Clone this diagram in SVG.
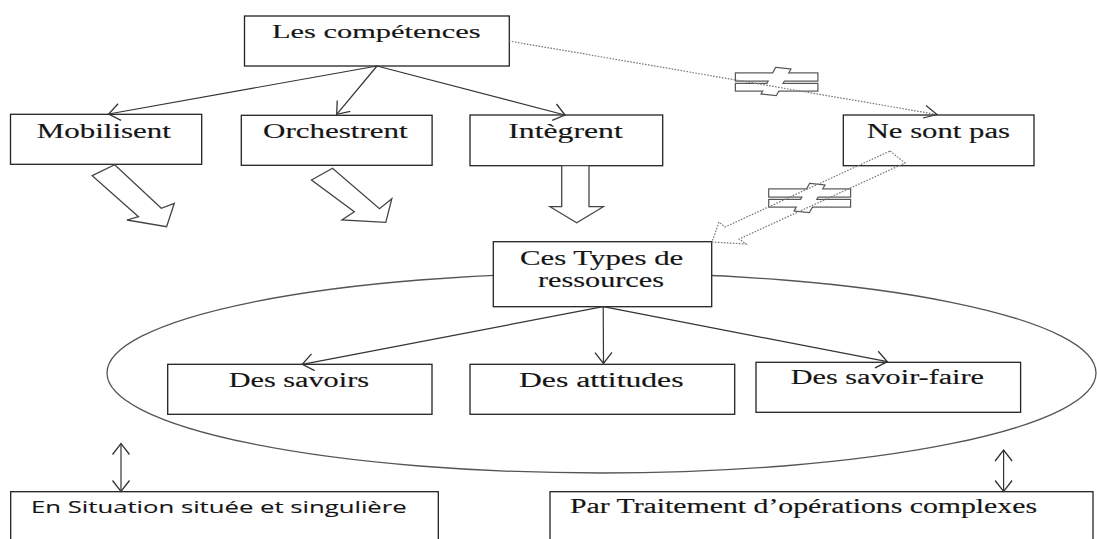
<svg xmlns="http://www.w3.org/2000/svg" width="1097" height="539" viewBox="0 0 1097 539">
<defs>
<style>
.box{fill:#fff;stroke:#222;stroke-width:1.3}
.serif{font-family:"Liberation Serif","Times New Roman",serif;font-size:20px;fill:#151515;stroke:#151515;stroke-width:0.15}
.sans{font-family:"Open Sans","Liberation Sans",sans-serif;font-size:17px;fill:#151515;stroke:#151515;stroke-width:0.1}
.line{stroke:#333;stroke-width:1.2;fill:none}
.dot{stroke:#777;stroke-width:1.2;fill:none;stroke-dasharray:1.6 1.4}
.block{fill:#fff;stroke:#444;stroke-width:1.3;stroke-linejoin:miter}
.neq-o{fill:#fff;stroke:#555;stroke-width:2.4}
.neq-i{fill:#fff;stroke:none}
</style>
<marker id="ah" markerUnits="userSpaceOnUse" markerWidth="14" markerHeight="20" viewBox="0 0 14 20" refX="12.5" refY="10" orient="auto-start-reverse">
<path d="M1.5,1.5 L12.5,10 L1.5,18.5" fill="none" stroke="#333" stroke-width="1.3"/>
</marker>
</defs>
<rect width="1097" height="539" fill="#fff"/>

<g id="group-ellipse">
<ellipse cx="601.5" cy="373" rx="494.5" ry="100" fill="none" stroke="#555" stroke-width="1.3"/>
</g>

<g id="node-competences">
<rect class="box" x="244.5" y="16" width="264.8" height="50"/>
<text class="serif" x="272" y="38.3" style="font-size:19px" textLength="208.5" lengthAdjust="spacingAndGlyphs">Les compétences</text>
</g>
<g id="node-mobilisent">
<rect class="box" x="10.5" y="114.3" width="191.2" height="50"/>
<text class="serif" x="36.8" y="137.7" textLength="134" lengthAdjust="spacingAndGlyphs">Mobilisent</text>
</g>
<g id="node-orchestrent">
<rect class="box" x="241.3" y="115.3" width="190.8" height="50"/>
<text class="serif" x="263" y="138" textLength="144.6" lengthAdjust="spacingAndGlyphs">Orchestrent</text>
</g>
<g id="node-integrent">
<rect class="box" x="470" y="115" width="192.7" height="50.7"/>
<text class="serif" x="508.3" y="137.7" textLength="114.4" lengthAdjust="spacingAndGlyphs">Intègrent</text>
</g>
<g id="node-nesontpas">
<rect class="box" x="843.3" y="115" width="190.7" height="50.7"/>
<text class="serif" x="866.7" y="138.3" textLength="143.3" lengthAdjust="spacingAndGlyphs">Ne sont pas</text>
</g>
<g id="node-types">
<rect class="box" x="493.3" y="241.7" width="218.4" height="65"/>
<text class="serif" x="520" y="265" textLength="163.3" lengthAdjust="spacingAndGlyphs">Ces Types de</text>
<text class="serif" x="538" y="287.3" textLength="126" lengthAdjust="spacingAndGlyphs">ressources</text>
</g>
<g id="node-savoirs">
<rect class="box" x="167.7" y="364.3" width="264.3" height="50"/>
<text class="serif" x="228.7" y="386.7" textLength="140.3" lengthAdjust="spacingAndGlyphs">Des savoirs</text>
</g>
<g id="node-attitudes">
<rect class="box" x="470" y="364.3" width="264.7" height="50"/>
<text class="serif" x="519" y="386.7" textLength="164.5" lengthAdjust="spacingAndGlyphs">Des attitudes</text>
</g>
<g id="node-savoirfaire">
<rect class="box" x="756" y="362.3" width="264.6" height="50"/>
<text class="serif" x="790.8" y="384" textLength="193.2" lengthAdjust="spacingAndGlyphs">Des savoir-faire</text>
</g>
<g id="node-situation">
<rect class="box" x="10.7" y="491.7" width="427.6" height="60"/>
<text class="sans" x="31" y="513.3" textLength="375.7" lengthAdjust="spacingAndGlyphs">En Situation située et singulière</text>
</g>
<g id="node-traitement">
<rect class="box" x="550" y="491.7" width="543" height="60"/>
<text class="serif" x="570" y="513.3" textLength="467" lengthAdjust="spacingAndGlyphs">Par Traitement d’opérations complexes</text>
</g>

<g id="connectors">
<line class="line" x1="377" y1="66" x2="108.7" y2="114" marker-end="url(#ah)"/>
<line class="line" x1="377" y1="66" x2="336.7" y2="114.3" marker-end="url(#ah)"/>
<line class="line" x1="377" y1="66" x2="565" y2="115" marker-end="url(#ah)"/>

<g id="neq-1">
<rect class="neq-o" x="736" y="73.5" width="81.3" height="7"/>
<rect class="neq-o" x="736" y="84" width="81.3" height="6.5"/>
<polygon class="neq-o" points="776,68 790,69.5 776,95 762,93.5"/>
<rect class="neq-i" x="736" y="73.5" width="81.3" height="7"/>
<rect class="neq-i" x="736" y="84" width="81.3" height="6.5"/>
<polygon class="neq-i" points="776,68 790,69.5 776,95 762,93.5"/>
</g>
<line class="dot" x1="509" y1="41" x2="937" y2="114.5"/>
<path d="M926,105.5 L937,114.5 L923,118" fill="none" stroke="#333" stroke-width="1.2"/>

<polygon class="block" points="92.2,175.7 114.7,164.7 161.3,208.3 174.3,203.3 166.6,226.7 127,220 138.5,216.7"/>
<polygon class="block" points="311.5,180 332.5,168.3 379.5,208.7 391.8,198.7 385.8,222.3 342,220 354.3,211.7"/>
<polygon class="block" points="561.7,165.7 589,165.7 589,206.7 603.3,206.7 576.7,222.7 550,206.7 561.7,206.7"/>

<g id="neq-2">
<rect class="neq-o" x="769.3" y="189.5" width="80.7" height="7"/>
<rect class="neq-o" x="769.3" y="200" width="80.7" height="6.5"/>
<polygon class="neq-o" points="810,184 824,185.5 809,212 795,210.5"/>
<rect class="neq-i" x="769.3" y="189.5" width="80.7" height="7"/>
<rect class="neq-i" x="769.3" y="200" width="80.7" height="6.5"/>
<polygon class="neq-i" points="810,184 824,185.5 809,212 795,210.5"/>
</g>
<polygon class="dot" points="890,151 905,163 739,239 746,244 712,242 719,222 725,227"/>

<line class="line" x1="603.2" y1="306.7" x2="302.3" y2="364.3" marker-end="url(#ah)"/>
<line class="line" x1="603.2" y1="306.7" x2="603.5" y2="363.5" marker-end="url(#ah)"/>
<line class="line" x1="603.2" y1="306.7" x2="887.4" y2="361.7" marker-end="url(#ah)"/>

<line class="line" x1="121" y1="443.5" x2="121" y2="491.5" marker-start="url(#ah)" marker-end="url(#ah)"/>
<line class="line" x1="1003.6" y1="450" x2="1003.6" y2="491.5" marker-start="url(#ah)" marker-end="url(#ah)"/>
</g>
</svg>
